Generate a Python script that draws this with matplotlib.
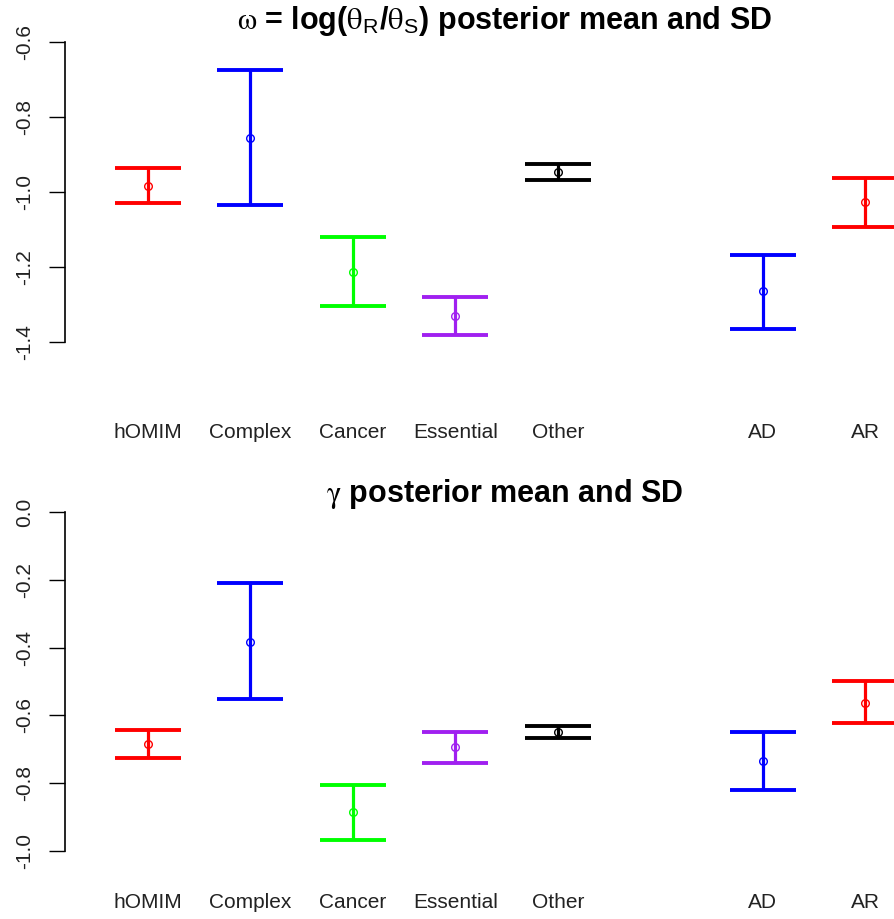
import numpy as np
import matplotlib.pyplot as plt

plt.rcParams['font.family'] = ['Liberation Sans', 'DejaVu Sans']
plt.rcParams['mathtext.fontset'] = 'custom'
plt.rcParams['mathtext.rm'] = 'STIXGeneral'
plt.rcParams['mathtext.it'] = 'STIXGeneral:italic'
plt.rcParams['mathtext.sf'] = 'Liberation Sans'

# categories and positions (gap between Other and AD)
groups = ["hOMIM", "Complex", "Cancer", "Essential", "Other", "AD", "AR"]
xpos = [1, 2, 3, 4, 5, 7, 8]
colors = ["red", "blue", "#00FF00", "#A020F0", "black", "blue", "red"]

# omega: posterior mean, upper and lower ends
omega_mean = [-0.984, -0.856, -1.212, -1.331, -0.947, -1.263, -1.026]
omega_hi = [-0.936, -0.675, -1.121, -1.281, -0.926, -1.168, -0.962]
omega_lo = [-1.029, -1.035, -1.303, -1.381, -0.967, -1.364, -1.094]

# gamma: posterior mean, upper and lower ends
gamma_mean = [-0.684, -0.383, -0.886, -0.694, -0.648, -0.735, -0.564]
gamma_hi = [-0.643, -0.210, -0.805, -0.649, -0.630, -0.650, -0.499]
gamma_lo = [-0.725, -0.552, -0.968, -0.740, -0.666, -0.820, -0.623]

omega_ticks = [-1.4, -1.2, -1.0, -0.8, -0.6]
gamma_ticks = [-1.0, -0.8, -0.6, -0.4, -0.2, 0.0]

W, H = 895, 919
fig = plt.figure(figsize=(W / 100, H / 100), dpi=100)


def panel(rect, mean, hi, lo, ticks, label_pad):
    ax = fig.add_axes(rect)
    for x, m, h, l, c in zip(xpos, mean, hi, lo, colors):
        ax.errorbar([x], [m], yerr=[[m - l], [h - m]], fmt='none',
                    ecolor=c, elinewidth=2.3, capsize=24, capthick=2.8,
                    clip_on=False)
        ax.plot([x], [m], 'o', markersize=5.5, markerfacecolor='none',
                markeredgecolor=c, markeredgewidth=1.0, clip_on=False)
    ax.set_xlim(0.19, 8.29)
    ax.set_ylim(ticks[0], ticks[-1])
    ax.set_yticks(ticks)
    ax.set_yticklabels(["%.1f" % t for t in ticks], rotation=90, va='center')
    ax.set_xticks(xpos)
    ax.set_xticklabels(groups)
    ax.tick_params(axis='y', length=11.5, width=1, pad=11, labelsize=15,
                   direction='out', labelcolor='#222222')
    ax.tick_params(axis='x', length=0, pad=label_pad, labelsize=15,
                   labelcolor='#222222')
    for s in ['top', 'right', 'bottom']:
        ax.spines[s].set_visible(False)
    ax.spines['left'].set_linewidth(1.2)
    return ax


panel([65 / W, 1 - 342 / H, (W - 65) / W, 300 / H],
      omega_mean, omega_hi, omega_lo, omega_ticks, 58)
panel([65 / W, 1 - 851 / H, (W - 65) / W, 339 / H],
      gamma_mean, gamma_hi, gamma_lo, gamma_ticks, 30)

fig.text(504 / W, 1 - 21 / H,
         r"$\mathrm{\omega}$ = log($\mathrm{\theta}_\mathsf{R}$/$\mathrm{\theta}_\mathsf{S}$) posterior mean and SD",
         ha='center', va='center', fontsize=22, fontweight='bold')
fig.text(505 / W, 1 - 494 / H, r"$\mathrm{\gamma}$ posterior mean and SD",
         ha='center', va='center', fontsize=22, fontweight='bold')

fig.savefig("out.png", dpi=100)
